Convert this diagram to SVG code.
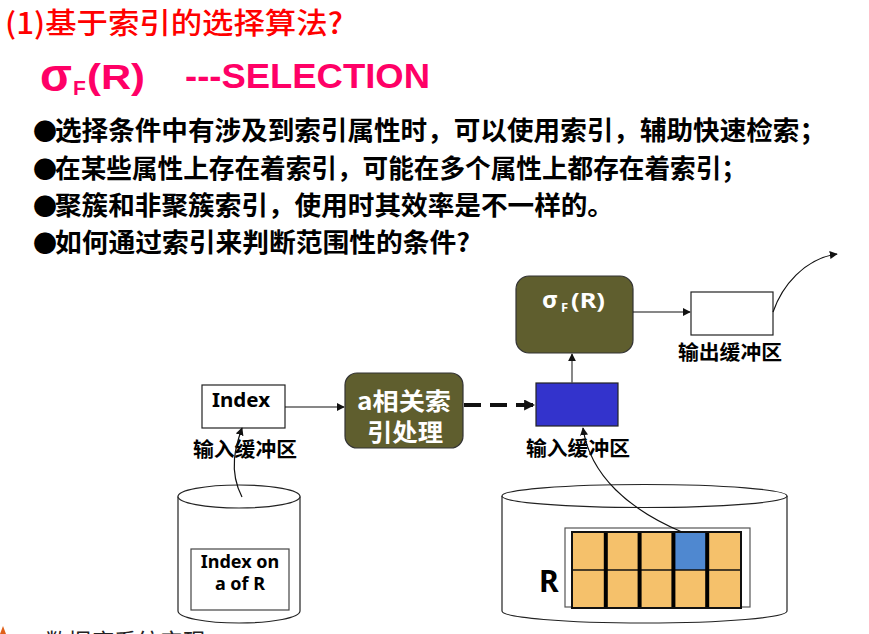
<svg xmlns="http://www.w3.org/2000/svg" width="869" height="634" viewBox="0 0 869 634">
  <defs>
    <style>
      .cjk { font-family: "Noto Sans CJK SC", "Liberation Sans", sans-serif; }
      .lat { font-family: "Liberation Sans", "Noto Sans", sans-serif; font-weight: bold; }
      .bullet { font-family: "Noto Sans CJK SC", sans-serif; font-weight: bold; font-size: 26px; fill: #000; }
      .lbl { font-family: "Noto Sans CJK SC", sans-serif; font-weight: bold; font-size: 20px; fill: #000; }
      .nodeText { font-family: "Noto Sans", "Noto Sans CJK SC", sans-serif; font-weight: bold; fill: #000; }
      .olive { fill: #5f5e2e; stroke: #333; stroke-width: 1.2; }
      .white { fill: #fff; stroke: #222; stroke-width: 1.2; }
      .wire { fill: none; stroke: #111; stroke-width: 1.2; }
      .cell { fill: #f5c16b; }
    </style>
    <marker id="arrow" viewBox="0 0 10 10" refX="9" refY="5" markerWidth="8" markerHeight="8" markerUnits="userSpaceOnUse" orient="auto">
      <path d="M0,0 L10,5 L0,10 Z" fill="#111"/>
    </marker>
    <marker id="arrowBig" viewBox="0 0 10 10" refX="9" refY="5" markerWidth="11" markerHeight="11" markerUnits="userSpaceOnUse" orient="auto">
      <path d="M0,0 L10,5 L0,10 Z" fill="#111"/>
    </marker>
  </defs>

  <rect width="869" height="634" fill="#fff"/>

  <!-- heading -->
  <text class="cjk" x="5" y="34" font-size="29" font-weight="500" fill="#f00" textLength="338" lengthAdjust="spacingAndGlyphs">(1)基于索引的选择算法?</text>

  <!-- selection operator line -->
  <g fill="#ff0066">
    <text class="lat" x="40" y="91" font-size="46" textLength="32" lengthAdjust="spacingAndGlyphs">σ</text>
    <text class="lat" x="73" y="95" font-size="21">F</text>
    <text class="lat" x="87" y="89" font-size="35" textLength="58" lengthAdjust="spacingAndGlyphs">(R)</text>
    <text class="lat" x="185" y="88" font-size="35" textLength="245" lengthAdjust="spacingAndGlyphs">---SELECTION</text>
  </g>

  <!-- bullet list -->
  <g class="bullet">
    <text x="33" y="140" font-size="24">●</text>
    <text x="55" y="140" textLength="771" lengthAdjust="spacingAndGlyphs">选择条件中有涉及到索引属性时，可以使用索引，辅助快速检索；</text>
    <text x="33" y="178" font-size="24">●</text>
    <text x="55" y="178" textLength="692" lengthAdjust="spacingAndGlyphs">在某些属性上存在着索引，可能在多个属性上都存在着索引；</text>
    <text x="33" y="215" font-size="24">●</text>
    <text x="55" y="215" textLength="559" lengthAdjust="spacingAndGlyphs">聚簇和非聚簇索引，使用时其效率是不一样的。</text>
    <text x="33" y="252" font-size="24">●</text>
    <text x="55" y="252" textLength="415" lengthAdjust="spacingAndGlyphs">如何通过索引来判断范围性的条件?</text>
  </g>

  <!-- disk holding the index on a -->
  <g id="index-disk">
    <path d="M178,496.5 L178,611 A61,12 0 0 0 300,611 L300,496.5" fill="#fff" stroke="#222" stroke-width="1.2"/>
    <ellipse cx="239" cy="496.5" rx="61" ry="11.5" fill="#fff" stroke="#222" stroke-width="1.2"/>
    <rect x="191" y="549" width="98" height="61" fill="#fff" stroke="#444" stroke-width="1.2"/>
    <text class="nodeText" x="240" y="568" font-size="18" text-anchor="middle">Index on</text>
    <text class="nodeText" x="240" y="590" font-size="18" text-anchor="middle">a of R</text>
  </g>

  <!-- disk holding relation R -->
  <g id="relation-disk">
    <path d="M502,496 L502,611 A142.5,12 0 0 0 787,611 L787,496" fill="#fff" stroke="#222" stroke-width="1.2"/>
    <ellipse cx="644.5" cy="496" rx="142.5" ry="11.5" fill="#fff" stroke="#222" stroke-width="1.2"/>
    <rect x="565" y="528" width="185" height="79" fill="#fff" stroke="#555" stroke-width="1.2"/>
    <g id="blocks">
      <rect class="cell" x="572" y="532" width="169" height="76"/>
      <rect x="673.4" y="532" width="33.8" height="38" fill="#4f88d0"/>
      <line x1="572" y1="570" x2="741" y2="570" stroke="#111" stroke-width="1.5"/>
      <g stroke="#000" stroke-width="4">
        <line x1="605.8" y1="532" x2="605.8" y2="608"/>
        <line x1="639.6" y1="532" x2="639.6" y2="608"/>
        <line x1="673.4" y1="532" x2="673.4" y2="608"/>
        <line x1="707.2" y1="532" x2="707.2" y2="608"/>
      </g>
      <rect x="572" y="532" width="169" height="76" fill="none" stroke="#111" stroke-width="2"/>
    </g>
    <text class="nodeText" x="539" y="592" font-size="30">R</text>
  </g>

  <!-- index input buffer -->
  <g id="index-buffer">
    <rect class="white" x="202" y="385" width="83" height="43"/>
    <text class="nodeText" x="212" y="407" font-size="20" textLength="58" lengthAdjust="spacingAndGlyphs">Index</text>
    <text class="lbl" x="193" y="457" textLength="104" lengthAdjust="spacingAndGlyphs">输入缓冲区</text>
  </g>

  <!-- index processing on a -->
  <g id="index-proc">
    <rect class="olive" x="345" y="373" width="118" height="75" rx="12" ry="12"/>
    <text class="cjk" x="404" y="410" font-size="24" font-weight="bold" fill="#fff" text-anchor="middle" textLength="94" lengthAdjust="spacingAndGlyphs">a相关索</text>
    <text class="cjk" x="405" y="441" font-size="24" font-weight="bold" fill="#fff" text-anchor="middle" textLength="76" lengthAdjust="spacingAndGlyphs">引处理</text>
  </g>

  <!-- data input buffer -->
  <g id="data-buffer">
    <rect x="536" y="383" width="82" height="43" fill="#3333cc" stroke="#222" stroke-width="1.2"/>
    <text class="lbl" x="526" y="456" textLength="104" lengthAdjust="spacingAndGlyphs">输入缓冲区</text>
  </g>

  <!-- selection operator -->
  <g id="select-op">
    <rect class="olive" x="516" y="276" width="117" height="77" rx="13" ry="13"/>
    <g fill="#fff" font-family="Noto Sans, Liberation Sans, sans-serif" font-weight="bold">
      <text x="542" y="308" font-size="24" textLength="16" lengthAdjust="spacingAndGlyphs">σ</text>
      <text x="561" y="312" font-size="13">F</text>
      <text x="571" y="308" font-size="22" textLength="34" lengthAdjust="spacingAndGlyphs">(R)</text>
    </g>
  </g>

  <!-- output buffer -->
  <g id="output-buffer">
    <rect class="white" x="691" y="292" width="82" height="43"/>
    <text class="lbl" x="678" y="360" textLength="104" lengthAdjust="spacingAndGlyphs">输出缓冲区</text>
  </g>

  <!-- connectors -->
  <g id="connectors">
    <path class="wire" d="M242,497 C228,470 236,445 242,428" marker-end="url(#arrow)"/>
    <path class="wire" d="M285,407 L344,407" marker-end="url(#arrow)"/>
    <path d="M464,405 L534,405" fill="none" stroke="#111" stroke-width="4" stroke-dasharray="17,9" marker-end="url(#arrowBig)"/>
    <path class="wire" d="M682,532 C630,510 590,476 583,428" marker-end="url(#arrow)"/>
    <path d="M572,383 L572,354" fill="none" stroke="#555" stroke-width="1.4" marker-end="url(#arrow)"/>
    <path class="wire" d="M633,312 L690,312" marker-end="url(#arrow)"/>
    <path class="wire" d="M773,312 C782,286 804,259 837,254" marker-end="url(#arrow)"/>
  </g>

  <!-- footer, cut by the page edge -->
  <path d="M0,634 L3,626 L6,634 Z" fill="#e0601a"/>
  <text class="cjk" x="45" y="650" font-size="23" fill="#222">数据库系统实现</text>
</svg>
